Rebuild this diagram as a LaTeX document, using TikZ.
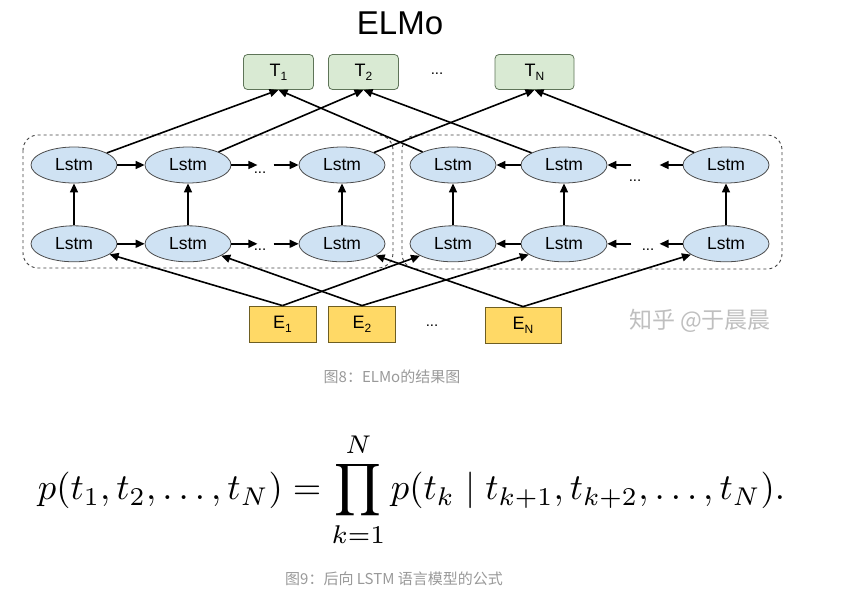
\documentclass[tikz,border=0pt]{standalone}
\usepackage{amsmath, amssymb}
\usepackage{fontspec}
\setmainfont{Liberation Sans}
\newfontfamily\cjk{Noto Sans CJK SC}
\usepackage{xcolor}
\usetikzlibrary{arrows.meta, positioning, shapes.geometric}

\definecolor{lstmblue}{HTML}{CFE2F3}
\definecolor{tokgreen}{HTML}{D9EAD3}
\definecolor{tokedge}{HTML}{5E7458}
\definecolor{embgold}{HTML}{FFD966}
\definecolor{embedge}{HTML}{6E5E22}
\definecolor{capgray}{HTML}{999999}
\newcommand{\sbs}[1]{\raisebox{-0.45ex}{\fontsize{12}{12}\selectfont #1}}

\begin{document}
\begin{tikzpicture}[
    x=1pt, y=-1pt,
    node distance=42pt,
    lstm/.style={ellipse, draw=black!70, fill=lstmblue, line width=0.8pt,
      minimum width=86pt, minimum height=36pt, inner sep=0pt,
      font=\fontsize{17.5}{17.5}\selectfont},
    tok/.style={rectangle, rounded corners=4pt, draw=tokedge, fill=tokgreen,
      line width=0.8pt, minimum width=70pt, minimum height=35pt,
      font=\fontsize{18}{18}\selectfont},
    emb/.style={rectangle, draw=embedge, fill=embgold, line width=0.8pt,
      minimum width=67pt, minimum height=36pt, font=\fontsize{18}{18}\selectfont},
    flow/.style={line width=1.6pt, -{Triangle[length=9pt,width=8pt]}},
    group/.style={draw=black!75, dashed, line width=0.9pt, rounded corners=15pt},
    dots/.style={font=\fontsize{15}{15}\selectfont},
    caption/.style={text=capgray, font=\cjk\fontsize{15}{15}\selectfont}
  ]
  \useasboundingbox (0,0) rectangle (861,595);

  \node[font=\fontsize{33}{33}\selectfont] (title) at (400,23) {ELMo};

  \node[tok] (T1) at (278.5,72) {T\sbs{1}};
  \node[tok] (T2) at (363.5,72) {T\sbs{2}};
  \node[dots] (tdots) at (437,74) {...};
  \node[tok, minimum width=79pt] (TN) at (534.5,72) {T\sbs{N}};

  \draw[group] (23,135) rectangle (393,268);
  \draw[group] (402,135) rectangle (782,269);

  \node[lstm] (L1t) at (74,165) {Lstm};
  \node[lstm] (L2t) at (188,165) {Lstm};
  \node[lstm] (L3t) at (342,165) {Lstm};
  \node[lstm, below=of L1t] (L1b) {Lstm};
  \node[lstm, below=of L2t] (L2b) {Lstm};
  \node[lstm, below=of L3t] (L3b) {Lstm};

  \node[lstm] (R1t) at (453,165) {Lstm};
  \node[lstm] (R2t) at (564,165) {Lstm};
  \node[lstm] (R3t) at (726,165) {Lstm};
  \node[lstm, below=of R1t] (R1b) {Lstm};
  \node[lstm, below=of R2t] (R2b) {Lstm};
  \node[lstm, below=of R3t] (R3b) {Lstm};

  \node[emb] (E1) at (282.5,324) {E\sbs{1}};
  \node[emb] (E2) at (362,324) {E\sbs{2}};
  \node[dots] (edots) at (432,326) {...};
  \node[emb, minimum width=76pt] (EN) at (523,325) {E\sbs{N}};

  \foreach \r in {t,b} {
    \coordinate (lgo\r) at ([xshift=26pt]L2\r.east);
    \coordinate (lin\r) at ([xshift=-25pt]L3\r.west);
    \coordinate (rgo\r) at ([xshift=24pt]R2\r.east);
    \coordinate (rin\r) at ([xshift=-23pt]R3\r.west);
    \draw[flow] (L1\r) -- (L2\r);
    \draw[flow] (L2\r) -- (lgo\r);
    \draw[flow] (lin\r) -- (L3\r);
    \draw[flow] (R2\r) -- (R1\r);
    \draw[flow] (rgo\r) -- (R2\r);
    \draw[flow] (R3\r) -- (rin\r);
  }
  \node[dots] (ldt) at (260,173) {...};
  \node[dots] (ldb) at (260,250) {...};
  \node[dots] (rdt) at (635,181) {...};
  \node[dots] (rdb) at (648,250) {...};

  \foreach \c in {L1,L2,L3,R1,R2,R3}
    \draw[flow] (\c b) -- (\c t);

  \draw[flow] (L1t) -- (T1.south);
  \draw[flow] (R1t) -- (T1.south);
  \draw[flow] (L2t) -- (T2.south);
  \draw[flow] (R2t) -- (T2.south);
  \draw[flow] (L3t) -- (TN.south);
  \draw[flow] (R3t) -- (TN.south);

  \draw[flow] (E1.north) -- (L1b);
  \draw[flow] (E1.north) -- (R1b);
  \draw[flow] (E2.north) -- (L2b);
  \draw[flow] (E2.north) -- (R2b);
  \draw[flow] (EN.north) -- (L3b);
  \draw[flow] (EN.north) -- (R3b);

  \node[text=black!25, font=\cjk\fontsize{23}{23}\selectfont] (mark) at (700,321) {知乎 @于晨晨};
  \node[caption] (cap8) at (392,377) {图8：ELMo的结果图};

  \node (eq) at (411.5,490) {\resizebox{747pt}{!}{$\displaystyle
    p(t_1,t_2,\ldots,t_N)=\prod_{k=1}^{N}p(t_k\mid t_{k+1},t_{k+2},\ldots,t_N).$}};
  \node[caption] (cap9) at (394,579) {图9：后向 LSTM 语言模型的公式};
\end{tikzpicture}
\end{document}
